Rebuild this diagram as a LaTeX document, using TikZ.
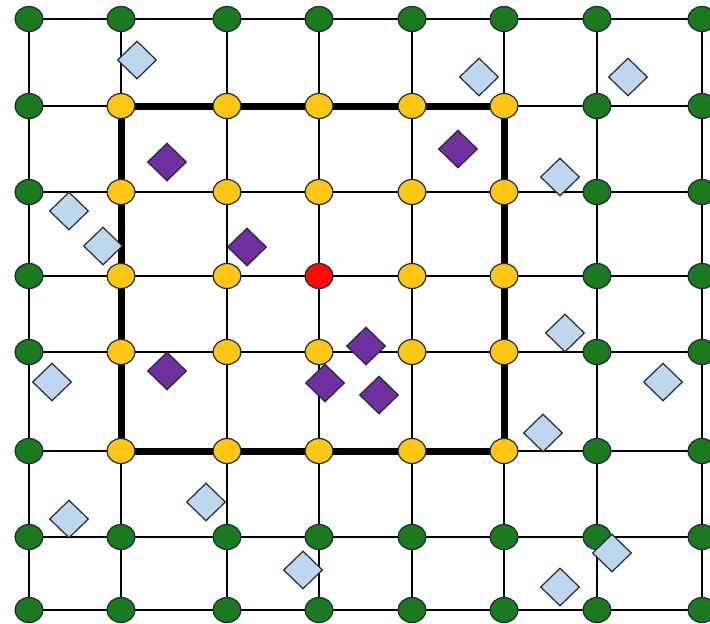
\documentclass[tikz,border=0pt]{standalone}
\usetikzlibrary{shapes.geometric,backgrounds}
\definecolor{gnfill}{HTML}{1B7A1F}
\definecolor{ynfill}{HTML}{FFC614}
\definecolor{rnfill}{HTML}{FF0A0A}
\definecolor{lbfill}{HTML}{BDD7EE}
\definecolor{pufill}{HTML}{7030A0}
\definecolor{outl}{HTML}{1E2A36}
\tikzset{
  basenode/.style={ellipse,draw=outl,line width=1.2pt,minimum width=28pt,minimum height=25pt,inner sep=0pt},
  gnode/.style={basenode,fill=gnfill},
  ynode/.style={basenode,fill=ynfill},
  rnode/.style={basenode,fill=rnfill},
  gridline/.style={line width=1.3pt,black},
  thickline/.style={line width=7pt,black},
  lbdia/.style={diamond,draw=outl,line width=1.2pt,fill=lbfill,minimum width=39pt,minimum height=38pt,inner sep=0pt},
  pudia/.style={diamond,draw=outl,line width=1.2pt,fill=pufill,minimum width=39pt,minimum height=38pt,inner sep=0pt}
}
\begin{document}
\begin{tikzpicture}[x=1pt,y=-1pt]
\useasboundingbox (0,0) rectangle (710,624);
\clip (0,0) rectangle (710,624);
% grid nodes
\foreach \xx [count=\i] in {29,121,227,319,412,504,597,702}{
  \foreach \yy [count=\j] in {19,106,192,276,352,451,537,610}{
    \pgfmathtruncatemacro\inner{(\i>1)&&(\i<7)&&(\j>1)&&(\j<7)}
    \ifnum\inner=1
      \ifnum\i=4 \ifnum\j=4 \def\st{rnode}\else\def\st{ynode}\fi\else\def\st{ynode}\fi
    \else
      \def\st{gnode}
    \fi
    \node[\st] (n-\i-\j) at (\xx,\yy) {};
  }
}
% connectors
\begin{scope}[on background layer]
\foreach \a [count=\b from 2] in {1,...,7}{
  \foreach \k in {1,...,8}{
    \draw[gridline] (n-\a-\k.center) -- (n-\b-\k.center);
    \draw[gridline] (n-\k-\a.center) -- (n-\k-\b.center);
  }
}
\draw[thickline] (n-2-2.center) -- (n-6-2.center) -- (n-6-6.center) -- (n-2-6.center) -- cycle;
\end{scope}
% light blue diamonds
\foreach \px/\py [count=\c] in {137/60,479/77,628/77,560/177,69/211,103/246,565/333,52/382,663/382,543/433,206/502,69/519,612/553,303/570,560/587}{
  \node[lbdia] (lb-\c) at (\px,\py) {};
}
% purple diamonds
\foreach \px/\py [count=\c] in {167/162,247/247,458/149,167/371,325/383,366/346,379/395}{
  \node[pudia] (pu-\c) at (\px,\py) {};
}
\end{tikzpicture}
\end{document}
